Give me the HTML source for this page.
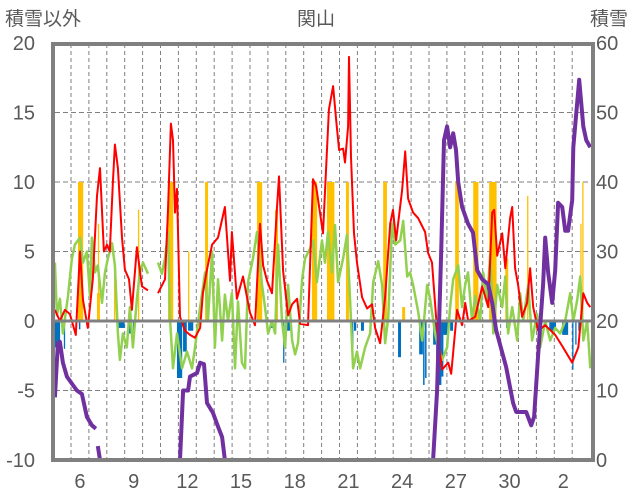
<!DOCTYPE html>
<html><head><meta charset="utf-8">
<style>
html,body{margin:0;padding:0;background:#fff;}
#wrap{position:relative;width:636px;height:501px;overflow:hidden;font-family:"Liberation Sans","Noto Sans CJK JP",sans-serif;}
svg text{font-family:"Liberation Sans","Noto Sans CJK JP",sans-serif;fill:#595959;}
</style></head>
<body>
<div id="wrap">
<svg id="chart" width="636" height="501" xmlns="http://www.w3.org/2000/svg">
  <text x="5" y="25" font-size="19">積雪以外</text>
  <text x="316" y="25" font-size="19" text-anchor="middle">関山</text>
  <text x="590" y="25" font-size="19">積雪</text>
  <defs><clipPath id="plotclip"><rect x="55" y="44" width="537" height="416"/></clipPath></defs>
  <g id="grid"></g>
  <g id="marks" clip-path="url(#plotclip)"></g>
  <g id="axes"></g>
</svg>
</div>
<script>
// ---- data ----
const leftTicks = [20, 15, 10, 5, 0, -5, -10];
const rightTicks = [60, 50, 40, 30, 20, 10, 0];
const dayTickPos = [6, 9, 12, 15, 18, 21, 24, 27, 30, 33];
const dayTickLabels = ["6", "9", "12", "15", "18", "21", "24", "27", "30", "2"];

const redT = [5.10,5.38,5.66,5.94,6.27,6.50,6.67,6.94,7.22,7.45,7.62,7.84,8.01,8.17,8.34,8.45,8.62,8.85,9.01,9.24,9.40,9.68,9.96,10.30,10.5,10.86,11.25,11.42,11.58,11.70,11.81,11.92,12.09,12.37,12.65,12.93,13.21,13.37,13.60,13.88,14.21,14.60,14.88,14.99,15.27,15.61,16.00,16.28,16.56,16.73,16.95,17.23,17.51,17.62,17.85,18.13,18.35,18.63,18.80,19.24,19.52,19.69,20.08,20.41,20.64,20.81,20.98,21.20,21.31,21.48,21.53,21.64,21.81,21.98,22.26,22.54,22.82,22.99,23.27,23.55,23.83,23.99,24.16,24.50,24.67,24.83,25.11,25.39,25.78,25.95,26.17,26.45,26.73,27.07,27.24,27.57,27.85,28.02,28.19,28.58,28.97,29.31,29.53,29.64,29.81,30.09,30.26,30.53,30.65,30.81,30.98,31.20,31.48,31.65,31.82,32.10,32.49,33.05,33.44,34.00,34.34,34.62,34.84,35.01];
const redV = [0.8,0,0.8,0.5,-1,5,1.5,-0.5,3,9,11,5,5.5,5,10,12.7,11,6,3.7,3,0.8,5.3,2.5,2.2,null,2,3,8,14.2,13,7.8,9.5,0.3,-0.7,-1,-1.2,-0.5,2,3.7,5.5,6,8.2,2.9,6.4,1.6,3.2,0.6,-0.3,7,4,2.9,2,8.2,10.4,3.6,0.4,1.2,1.6,-0.2,-0.3,10.2,9.7,6.3,15.2,16.9,14.5,12.3,12.4,11.4,14,19,11.8,6.3,4.2,1.7,0.9,1.2,-0.5,-1.6,1.7,7,8,5.8,9.4,12.2,8.8,7.8,7.4,6.4,4.9,4.2,-0.7,-3.5,-3,-3.8,0.8,-0.3,1.3,0,0.3,2.5,1,7.8,8,4.7,6.3,3.8,7.4,8.2,3.8,2.6,0.3,1.3,3.8,1,-0.7,-0.3,-1,-1.8,-3,-1.9,2,1.3,1];

const greenT = [5.10,5.21,5.38,5.55,5.83,6.05,6.22,6.50,6.67,6.89,7.06,7.17,7.34,7.50,7.73,7.90,8.06,8.29,8.45,8.62,8.73,8.90,9.12,9.29,9.46,9.68,9.85,10.02,10.30,10.58,10.86,11.08,11.25,11.42,11.53,11.70,11.92,12.20,12.48,12.76,12.93,13.21,13.49,13.65,13.88,14.04,14.21,14.44,14.60,14.77,14.99,15.16,15.33,15.55,15.72,15.89,16.17,16.39,16.67,16.84,17.01,17.23,17.40,17.57,17.79,17.96,18.13,18.35,18.52,18.68,18.91,19.08,19.35,19.52,19.74,20.02,20.19,20.36,20.58,20.75,20.92,21.20,21.42,21.59,21.76,21.98,22.15,22.43,22.71,22.88,23.16,23.38,23.55,23.72,23.94,24.11,24.39,24.56,24.78,24.94,25.11,25.39,25.62,25.90,26.06,26.34,26.51,26.73,27.01,27.18,27.35,27.63,27.85,28.02,28.18,28.41,28.58,28.86,29.02,29.25,29.42,29.59,29.81,30.09,30.26,30.42,30.65,30.93,31.09,31.26,31.54,31.76,32.04,32.21,32.49,32.77,33.05,33.33,33.61,33.89,34.06,34.28,34.45,34.62,34.84,35.01];
const greenV = [4.2,0.4,1.6,-0.9,1.8,4.5,5.5,6,4.2,5,1.8,6,3.5,4,1.3,3.5,4.5,5.6,4,-0.9,-2.8,-0.9,-1.9,1,-1.9,1.6,3.5,4.2,3.4,null,4.2,3.4,4.5,6.4,0.2,-3.4,-0.9,-3.4,-2.2,-3.4,-1.9,1,3.5,0,5,-1.9,3,-1.4,1.9,0,2,-3.4,1.4,-3,-3.4,2.8,4.5,6.4,2.6,1,-0.9,0,-0.9,5.5,0,-1.9,2.6,-1.4,-2.4,-1.6,3,4.5,5.2,5.8,2.8,5.8,4.2,6.4,3.5,6.9,2.8,4.5,6.2,1.5,-3.4,-2.2,-3.4,-1.9,-0.9,2.8,4.3,2.6,-1.6,0.2,7,5.5,5.8,7.2,3.2,3.5,2.6,0.7,-1.4,2.6,1.6,-0.9,-1.9,-2.8,-1.9,1,3,4,1,2.6,3.5,0,1.8,0,3.5,1.5,4.8,-0.9,2.6,1,3.2,-0.9,1,-1.4,2,0,2.6,-1.4,0.5,-1.9,0,-1.4,-0.5,-0.9,0,2,0,1.5,3.2,-1.4,0,-3.4];

const snowT = [5.10,5.27,5.38,5.55,5.77,6.05,6.33,6.61,6.89,7.17,7.39,7.45,7.50,7.62,10.41,10.6,10.86,12.09,12.26,12.54,12.65,13.04,13.21,13.43,13.60,13.93,14.21,14.44,14.60,26.23,26.45,26.68,26.84,27.01,27.18,27.35,27.51,27.63,27.85,28.18,28.46,28.69,28.97,29.30,29.53,29.75,30.31,30.70,30.87,31.43,31.71,31.87,32.09,32.38,32.49,32.66,32.88,33.05,33.21,33.44,33.61,33.77,34.00,34.06,34.39,34.62,34.79,35.01];
const snowV = [9,16.8,17,14,12,11,10,9.5,6.2,5,4.5,null,2,0,0,null,0,0,10,10,12,12.5,14,13.8,8.2,6.8,4.8,3.3,0,0,10,30,46,48,45,47,44.6,40,36.4,34,32.7,27.3,26,25.3,22.6,18.7,13.4,8.2,6.9,6.9,5,6.2,14.8,25.5,32,26.9,22.6,27.3,37,36.4,33,33,37.4,45,54.7,48,46,45];

const sunT = [6.39,7.45,7.50,8.40,9.74,11.42,12.54,13.49,16.39,17.40,19.46,20.30,21.36,23.44,24.50,27.46,28.47,29.36,30.26,31.48,34.45,34.56];
const sunHours = [7,4,1,2,1,7,1,4,7,4,7,10,4,5,4,5,7,10,4,1,1,1];
const sunV = [10,2,7,3.9,8,10,5,10,10,8,10,10,10,10,1,10,10,10,4.5,9,7,10];

const negT = [5.10,5.60,6.44,8.62,9.18,9.46,11.92,12.26,12.54,15.05,17.12,17.85,17.96,21.65,21.81,22.20,24.27,25.45,25.67,25.78,26.23,26.40,26.68,26.79,27.18,30.31,32.0,32.72,33.44,34.00,34.17,34.34];
const negHours = [7,1,2,9,5,1,7,5,7,1,4,1,7,3,3,4,4,5,2,2,4,7,3,7,4,4,1,9,8,1,1,1];
const negV = [-1.9,-2,-0.6,-0.5,-0.9,-1.5,-4.1,-2.2,-0.7,-2.4,-0.5,-3,-0.7,-2.1,-0.7,-0.7,-2.6,-2.4,-4.6,-4.1,-1.7,-4.6,-4,-1,-0.7,-0.5,-0.7,-0.7,-1,-3.5,-1.7,-0.7];

// ---- axis functions ----
const X0 = 71, DAYW = 17.9;
function xs(t){ return X0 + (t - 6) * DAYW; }
function yl(v){ return 321 - v * 13.9; }
function yr(s){ return 460 - s * 6.95; }

const NS = "http://www.w3.org/2000/svg";
function mk(tag, attrs, parent){
  const e = document.createElementNS(NS, tag);
  for (const k in attrs) e.setAttribute(k, attrs[k]);
  parent.appendChild(e);
  return e;
}
const grid = document.getElementById('grid');
const marks = document.getElementById('marks');
const axes = document.getElementById('axes');

// vertical day gridlines
for (let d = 6; d <= 34; d++){
  const l = mk('line', {x1: xs(d), x2: xs(d), y1: 44, y2: 460, stroke: '#7f7f7f', 'stroke-width': 1, 'stroke-dasharray': '4,3'}, grid);
  
  
}
// horizontal gridlines
leftTicks.forEach(v => {
  if (v === 20 || v === -10 || v === 0) return;
  const l = mk('line', {x1: 55, x2: 592, y1: yl(v), y2: yl(v), stroke: '#7f7f7f', 'stroke-width': 1, 'stroke-dasharray': '5,3'}, grid);
  
  
});

// bars
function hourBars(T, H, V, color, name){
  for (let i = 0; i < T.length; i++){
    const x1 = xs(T[i]), x2 = xs(T[i] + H[i] / 24);
    const y0 = yl(0), y1 = yl(V[i]);
    const r = mk('rect', {x: x1, y: Math.min(y0, y1), width: Math.max(1.3, x2 - x1), height: Math.abs(y1 - y0), fill: color}, marks);
    
    
  }
}
hourBars(sunT, sunHours, sunV, '#ffc000', 'sunshine-bar');
hourBars(negT, negHours, negV, '#0070c0', 'negative-bar');

// lines
function linePath(T, V, fy){
  let d = '', pen = false;
  for (let i = 0; i < T.length; i++){
    if (V[i] === null){ pen = false; continue; }
    d += (pen ? 'L' : 'M') + xs(T[i]).toFixed(1) + ',' + fy(V[i]).toFixed(1);
    pen = true;
  }
  return d;
}
const gp = mk('path', {d: linePath(greenT, greenV, yl), fill: 'none', stroke: '#92d050', 'stroke-width': 2.5, 'stroke-linejoin': 'round'}, marks);


const rp = mk('path', {d: linePath(redT, redV, yl), fill: 'none', stroke: '#ff0000', 'stroke-width': 2, 'stroke-linejoin': 'round'}, marks);



// zero line
const zl = mk('line', {x1: 55, x2: 592, y1: yl(0), y2: yl(0), stroke: '#808080', 'stroke-width': 3}, marks);



const sp = mk('path', {d: linePath(snowT, snowV, yr), fill: 'none', stroke: '#7030a0', 'stroke-width': 4, 'stroke-linejoin': 'round'}, marks);



// frame
const fr = mk('rect', {x: 53, y: 44, width: 540, height: 416, fill: 'none', stroke: '#808080', 'stroke-width': 4}, axes);



// tick labels
leftTicks.forEach(v => {
  const t = mk('text', {x: 35, y: yl(v) + 7, 'font-size': 20, 'text-anchor': 'end'}, axes);
  t.textContent = String(v);
  
  
});
rightTicks.forEach(s => {
  const t = mk('text', {x: 596, y: yr(s) + 7, 'font-size': 20}, axes);
  t.textContent = String(s);
  
  
});
dayTickPos.forEach((d, i) => {
  const t = mk('text', {x: xs(d + 0.5), y: 488, 'font-size': 20, 'text-anchor': 'middle'}, axes);
  t.textContent = dayTickLabels[i];
  
  
});
</script>
</body></html>
